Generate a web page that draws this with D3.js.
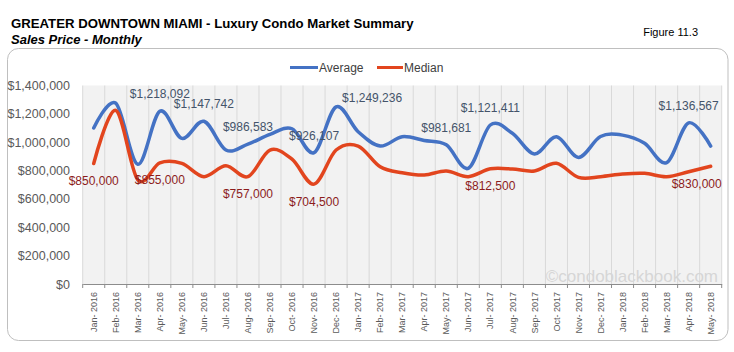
<!DOCTYPE html>
<html><head><meta charset="utf-8">
<script src="https://cdn.jsdelivr.net/npm/d3@7"></script>
<style>
html,body{margin:0;padding:0;background:#fff;}
svg{display:block;font-family:"Liberation Sans",Arial,sans-serif;}
</style></head>
<body>
<svg id="chart" width="734" height="352"></svg>
<script>
// ---- data ----
const months = ["Jan- 2016","Feb- 2016","Mar- 2016","Apr- 2016","May- 2016","Jun- 2016","Jul- 2016","Aug- 2016","Sep- 2016","Oct- 2016","Nov- 2016","Dec- 2016",
  "Jan- 2017","Feb- 2017","Mar- 2017","Apr- 2017","May- 2017","Jun- 2017","Jul- 2017","Aug- 2017","Sep- 2017","Oct- 2017","Nov- 2017","Dec- 2017",
  "Jan- 2018","Feb- 2018","Mar- 2018","Apr- 2018","May- 2018"];
const average = [1100000,1275000,845000,1218092,1027000,1147742,945000,986583,1055000,1095000,926107,1249236,
  1074000,973000,1039000,1012000,981681,816000,1121411,1063000,917000,1039000,893000,1040000,1050000,992000,856000,1136567,973000];
const median = [850000,1225000,735000,855000,851000,757000,834000,757000,945000,880000,704500,945000,
  973000,827000,785000,769000,797000,757000,812500,811000,797000,851000,752000,757000,776000,781000,757000,792000,830000];
const yTicks = [0,200000,400000,600000,800000,1000000,1200000,1400000];
const seriesNames = ["Average","Median"];
const avgLabelIdx = [3,5,7,10,11,16,18,27];
const medLabelIdx = [0,3,7,10,18,28];

// ---- style / layout ----
const colors = {Average:"#4472C4", Median:"#E2451E"};
const labelColors = {Average:"#44546A", Median:"#8C1C1C"};
const nudge = {"Average-11":[36,8], "Median-28":[-14,0]};

const svg = d3.select("#chart");
const plot = {left:82.7, right:721.7, top:85.5, bottom:284};

// frame
svg.append("rect").attr("x",7.5).attr("y",48.5).attr("width",720.5).attr("height",292)
  .attr("rx",11).attr("fill","#fff").attr("stroke","#BFBFBF").attr("stroke-width",1);

// titles
svg.append("text").attr("x",11).attr("y",28).attr("font-size",13.2).attr("font-weight","bold").attr("fill","#000")
  .text("GREATER DOWNTOWN MIAMI - Luxury Condo Market Summary");
svg.append("text").attr("x",11).attr("y",43.5).attr("font-size",13).attr("font-weight","bold").attr("font-style","italic").attr("fill","#000")
  .text("Sales Price - Monthly");
svg.append("text").attr("x",698).attr("y",35.5).attr("text-anchor","end").attr("font-size",11).attr("fill","#000")
  .text("Figure 11.3");

const x = d3.scaleBand().domain(months).range([plot.left, plot.right]).padding(0);
const y = d3.scaleLinear().domain([0,1400000]).range([plot.bottom, plot.top]);
const cx = d => x(d) + x.bandwidth()/2;

// plot background
svg.append("rect").attr("x",plot.left).attr("y",plot.top).attr("width",plot.right-plot.left).attr("height",plot.bottom-plot.top)
  .attr("fill","#F2F2F2");

// vertical gridlines at category boundaries
const bounds = months.map(m => x(m)).concat([plot.right]);
svg.append("g").selectAll("line").data(bounds).join("line")
  .attr("x1",d=>d).attr("x2",d=>d).attr("y1",plot.top).attr("y2",plot.bottom)
  .attr("stroke","#D9D9D9").attr("stroke-width",1);

// watermark
svg.append("text").attr("x",718).attr("y",282).attr("text-anchor","end").attr("font-size",17)
  .attr("fill","#D6D6D6").text("\u00A9condoblackbook.com");

// y axis labels
const yAxis = d3.axisLeft(y).tickValues(yTicks).tickSize(0).tickPadding(0)
  .tickFormat(d => "$" + d3.format(",")(d));
const gy = svg.append("g").attr("transform","translate(70,0)").call(yAxis);
gy.select(".domain").remove();
gy.selectAll("text").attr("font-size",12.5).attr("fill","#595959").attr("font-family","Liberation Sans, Arial, sans-serif");

// x axis
const gx = svg.append("g").attr("transform",`translate(0,${plot.bottom})`)
  .call(d3.axisBottom(x).tickSize(0).tickFormat(d=>d));
gx.select(".domain").attr("stroke","#8C8C8C");
gx.selectAll(".tick text").attr("font-size",9).attr("fill","#595959")
  .attr("font-family","Liberation Sans, Arial, sans-serif")
  .attr("transform","rotate(-90)").attr("text-anchor","end").attr("x",-8).attr("y",0).attr("dy","0.35em");
svg.append("g").selectAll("line").data(bounds).join("line")
  .attr("x1",d=>d).attr("x2",d=>d).attr("y1",plot.bottom).attr("y2",plot.bottom+4)
  .attr("stroke","#8C8C8C").attr("stroke-width",1);

// lines
const line = d3.line().x((d,i)=>cx(months[i])).y(d=>y(d)).curve(d3.curveCatmullRom.alpha(0));
const seriesData = {Average:average, Median:median};
seriesNames.forEach(s => {
  svg.append("path").datum(seriesData[s]).attr("d",line).attr("fill","none")
    .attr("stroke",colors[s]).attr("stroke-width",3.5).attr("stroke-linejoin","round").attr("stroke-linecap","round");
});

// data labels
function addLabels(s, idx, dy){
  svg.append("g").selectAll("text").data(idx).join("text")
    .attr("x",i => cx(months[i]) + ((nudge[s+"-"+i]||[0,0])[0]))
    .attr("y",i => y(seriesData[s][i]) + dy + ((nudge[s+"-"+i]||[0,0])[1]))
    .attr("text-anchor","middle").attr("dominant-baseline","central")
    .attr("font-size",12).attr("fill",labelColors[s])
    .text(i => "$" + d3.format(",")(seriesData[s][i]));
}
addLabels("Average", avgLabelIdx, -17);
addLabels("Median", medLabelIdx, 17.5);

// legend
const legendItems = [{name:"Average", x1:290, x2:318}, {name:"Median", x1:377, x2:403}];
const lg = svg.append("g");
legendItems.forEach(it => {
  lg.append("line").attr("x1",it.x1).attr("x2",it.x2).attr("y1",67.5).attr("y2",67.5)
    .attr("stroke",colors[it.name]).attr("stroke-width",3);
  lg.append("text").attr("x",it.x2+1).attr("y",67.5).attr("dominant-baseline","central")
    .attr("font-size",12).attr("fill","#404040").text(it.name);
});
</script>
</body></html>
